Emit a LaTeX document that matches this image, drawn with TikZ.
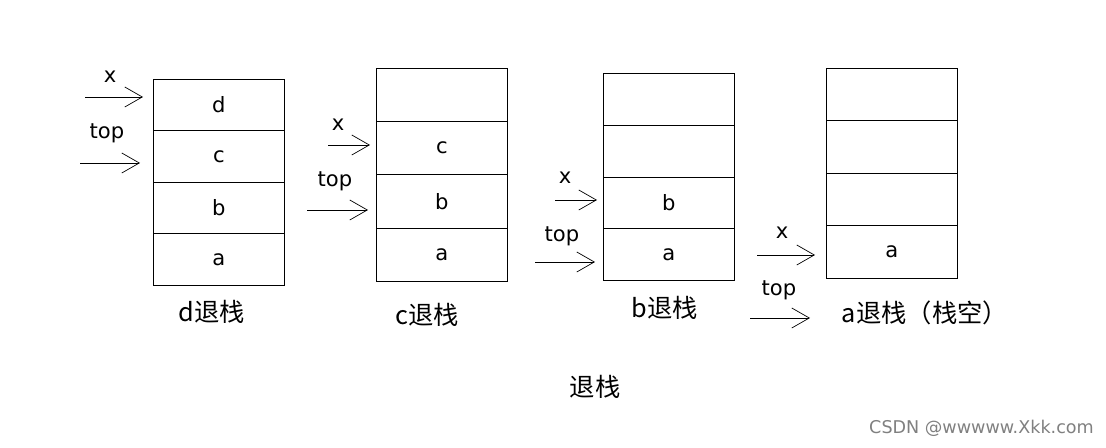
\documentclass[tikz,border=0pt]{standalone}
\usepackage{fontspec}
\setmainfont{DejaVu Sans}
\newfontfamily\cjk{Noto Sans CJK SC}
\usetikzlibrary{arrows.meta}
\tikzset{
    cell/.style={draw, minimum width=2.62cm, minimum height=1.07cm, inner sep=0pt, font=\large},
    ptr/.style={-{Straight Barb[length=3.5mm,width=4mm]}, thin},
    ptrtxt/.style={font=\large},
    stackcap/.style={font=\cjk\Large}
}
\begin{document}
\begin{tikzpicture}[x=0.02cm, y=-0.02cm]
        \useasboundingbox (0,0) rectangle (1106,448);
        % stacks: name / left / top / height of rows
        \foreach \s/\l/\t/\h/\ca/\cb/\cc/\cd in {one/153/79/51.5/a/b/c/d, two/376/68/53.2/a/b/c/, three/603/73/51.8/a/b//, four/826/68/52.5/a///} {
            \foreach \i/\c in {1/\ca, 2/\cb, 3/\cc, 4/\cd} {
                \node[cell, minimum height=\h*0.02cm, anchor=north west] (\s\i) at (\l, {\t + (4-\i)*\h}) {\c};
            }
        }
        \node[stackcap] (capone) at (212,312) {d退栈};
        \node[stackcap] (captwo) at (427,315) {c退栈};
        \node[stackcap] (capthree) at (665,308) {b退栈};
        \node[stackcap] (capfour) at (925,313) {a退栈（栈空）};
        \node[stackcap] (title) at (595,387) {退栈};
        \node[text=gray, font=\normalsize, anchor=east] (mark) at (1100,428) {CSDN @wwwww.Xkk.com};
        % pointers
        \foreach \n/\x/\y/\X/\Y/\lx/\ly/\t in {a/85/97/143/97/110/77/x, b/80/163/140/163/107/133/top,
            c/328/145/370/145/338/125/x, d/307/210/368/210/335/181/top,
            e/555/200/597/200/565/178/x, f/535/262/595/262/562/236/top,
            g/757/255/815/255/782/233/x, h/750/318/810/318/779/290/top} {
            \coordinate (\n0) at (\x,\y);
            \coordinate (\n1) at (\X,\Y);
            \node[ptrtxt] (\n t) at (\lx,\ly) {\t};
            \draw[ptr] (\n0) -- (\n1);
        }
\end{tikzpicture}
\end{document}
